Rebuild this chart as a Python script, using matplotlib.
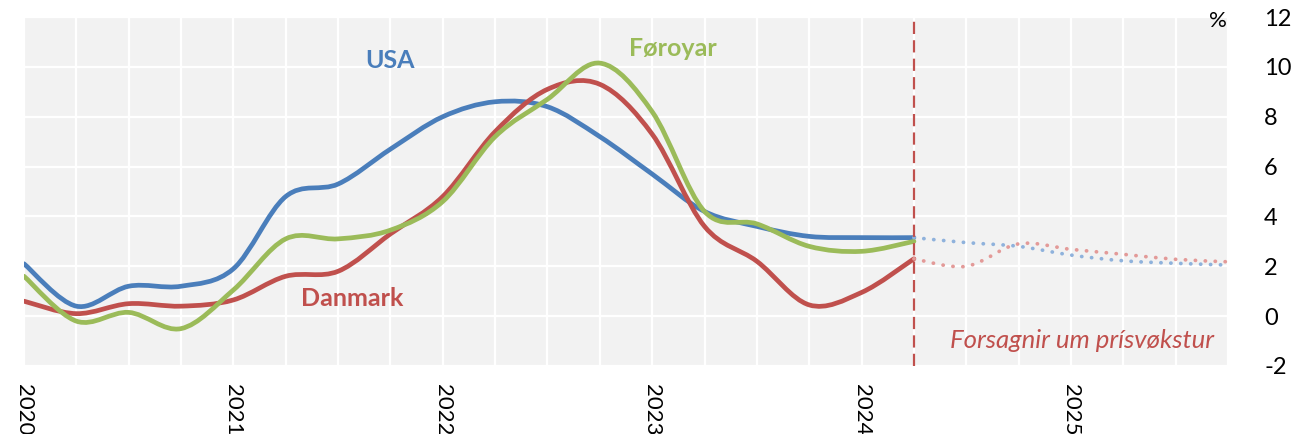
import numpy as np
import matplotlib
matplotlib.use("Agg")
import matplotlib.pyplot as plt
from matplotlib.path import Path
from matplotlib.patches import PathPatch

plt.rcParams['font.family'] = ['Lato', 'DejaVu Sans']

# quarterly positions (fractional years)
quarters = [2020.0, 2020.25, 2020.5, 2020.75, 2021.0, 2021.25, 2021.5, 2021.75,
            2022.0, 2022.25, 2022.5, 2022.75, 2023.0, 2023.25, 2023.5, 2023.75,
            2024.0, 2024.25]
usa = [2.1, 0.4, 1.2, 1.2, 1.9, 4.8, 5.3, 6.7, 8.0, 8.6, 8.4, 7.2, 5.7, 4.2, 3.6, 3.2, 3.15, 3.15]
danmark = [0.6, 0.1, 0.5, 0.4, 0.65, 1.6, 1.8, 3.3, 4.8, 7.4, 9.1, 9.3, 7.3, 3.6, 2.2, 0.45, 0.95, 2.3]
foroyar = [1.6, -0.2, 0.15, -0.5, 1.05, 3.1, 3.1, 3.45, 4.6, 7.2, 8.7, 10.15, 8.2, 4.2, 3.7, 2.8, 2.6, 3.0]

fc_quarters = [2024.25, 2024.5, 2024.75, 2025.0, 2025.25, 2025.5, 2025.75]
usa_fc = [3.15, 2.95, 2.8, 2.45, 2.22, 2.12, 2.05]
danmark_fc = [2.3, 2.0, 2.9, 2.68, 2.48, 2.28, 2.18]

yticks = [-2, 0, 2, 4, 6, 8, 10, 12]
xtick_years = [2020, 2021, 2022, 2023, 2024, 2025]

BLUE = '#4a7ebb'
RED = '#c0504d'
GREEN = '#9bbb59'
BLUE_L = '#8fb2dc'
RED_L = '#e39a98'


def smooth_path(x, y):
    # Excel-style smoothed line: Catmull-Rom converted to cubic Bezier segments
    p = np.column_stack([x, y]).astype(float)
    n = len(p)
    verts = [p[0]]
    codes = [Path.MOVETO]
    for i in range(n - 1):
        p0 = p[i - 1] if i > 0 else p[i]
        p3 = p[i + 2] if i + 2 < n else p[i + 1]
        c1 = p[i] + (p[i + 1] - p0) / 6
        c2 = p[i + 1] - (p3 - p[i]) / 6
        verts += [c1, c2, p[i + 1]]
        codes += [Path.CURVE4] * 3
    return Path(verts, codes)


fig = plt.figure(figsize=(12.91, 4.34), dpi=100)
ax = fig.add_axes([24 / 1291, 1 - 366 / 434, (1228 - 24) / 1291, (366 - 17) / 434])
ax.set_facecolor('#f2f2f2')

for xs, ys, c in [(quarters, usa, BLUE), (quarters, danmark, RED), (quarters, foroyar, GREEN)]:
    ax.add_patch(PathPatch(smooth_path(xs, ys), fill=False, edgecolor=c, lw=3.4,
                           capstyle='round', joinstyle='round', zorder=3))

for xs, ys, c in [(fc_quarters, danmark_fc, RED_L), (fc_quarters, usa_fc, BLUE_L)]:
    ax.add_patch(PathPatch(smooth_path(xs, ys), fill=False, edgecolor=c, lw=2.7,
                           linestyle=(0, (0.05, 2.6)), capstyle='round', zorder=3))

ax.axvline(2024.25, color=RED, lw=1.6, ls=(0, (5.5, 2.8)), zorder=4)

ax.set_xlim(2020, 2025.75)
ax.set_ylim(-2, 12)
ax.set_xticks(np.arange(2020, 2025.76, 0.25), minor=True)
ax.set_xticks(xtick_years)
ax.set_xticklabels([str(y) for y in xtick_years], rotation=270, fontsize=16)
ax.set_yticks(yticks)
ax.set_yticklabels([str(v) for v in yticks], fontsize=17, ha='left')
ax.yaxis.tick_right()
ax.tick_params(axis='y', length=0, pad=26)
ax.tick_params(axis='x', which='both', length=0, pad=13)
ax.grid(True, which='both', color='white', lw=1.6, zorder=1)
ax.set_axisbelow(True)
for s in ax.spines.values():
    s.set_visible(False)

ax.text(2021.75, 10.27, 'USA', color=BLUE, fontsize=18, fontweight='bold', ha='center', va='center')
ax.text(2023.10, 10.75, 'Føroyar', color=GREEN, fontsize=18, fontweight='bold', ha='center', va='center')
ax.text(2021.565, 0.72, 'Danmark', color=RED, fontsize=18, fontweight='bold', ha='center', va='center')
ax.text(2025.055, -0.96, 'Forsagnir um prísvøkstur', color=RED, fontsize=18.5, fontstyle='italic',
        ha='center', va='center')
ax.text(2025.745, 11.85, '%', fontsize=16, ha='right', va='center')

fig.savefig('out.png', dpi=100)
